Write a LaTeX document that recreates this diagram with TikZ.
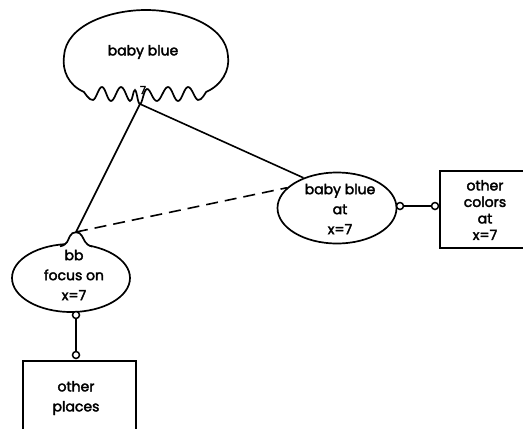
\documentclass[tikz,border=0pt]{standalone}
\usepackage{fontspec}
\setmainfont{Poppins}
\newfontfamily\lblfont{Poppins}[FakeBold=2.5]
\usetikzlibrary{shapes.geometric}
\begin{document}
\begin{tikzpicture}[x=1pt,y=-1pt,line width=1.7pt,
  lbl/.style={font=\lblfont\fontsize{14}{20}\selectfont, align=center, inner sep=0},
  lbltight/.style={font=\lblfont\fontsize{14}{16.5}\selectfont, align=center, inner sep=0},
  oval/.style={draw, ellipse, inner sep=0},
  port/.style={draw, circle, fill=white, inner sep=0, minimum size=7pt, line width=1.5pt},
  boxshape/.style={draw, rectangle, inner sep=0},
  link/.style={line width=1.6pt},
  dashlink/.style={line width=1.6pt, dash pattern=on 12pt off 7pt}]
\useasboundingbox (0,0) rectangle (523,429);
\clip (0,0) rectangle (523,429);

% jellyfish-shaped concept with a wavy fringe
\draw (206,92) .. controls (222,85) and (230,70) .. (228,56)
  .. controls (226,25) and (182,10) .. (146,10)
  .. controls (110,10) and (66,25) .. (64,56)
  .. controls (62,70) and (68,85) .. (84,92)
  -- plot[smooth,tension=0.7] coordinates {(84,92) (93,100) (102,87) (111,101) (121,87) (130,101) (135,90) (140,104) (147,89) (157,101) (168,87) (178,101) (188,87) (198,100) (206,92)};
\node[lbl] (bbtxt) at (143,52) {baby blue};
\node[font=\lblfont\fontsize{11}{12}\selectfont, inner sep=0] (seven) at (143,90) {7};
\coordinate (J) at (140,104);

% focus oval with a small knob on top
\node[oval, minimum width=118pt, minimum height=68pt] (focus) at (71,278) {};
\fill[white] (61,247) .. controls (68,245) and (68,239) .. (70,236)
  .. controls (72,231) and (80,231) .. (82,236)
  .. controls (84,239) and (85,245) .. (91,247) -- (91,248.5) -- (61,248.5) -- cycle;
\draw (60,246.3) .. controls (68,245) and (68,239) .. (70,236)
  .. controls (72,231) and (80,231) .. (82,236)
  .. controls (84,239) and (85,245) .. (92,246.5);
\coordinate (bt) at (76,232);
\node[lbl] (focustxt) at (74,275) {bb\\focus on\\x=7};

% baby blue at x=7
\node[oval, minimum width=119pt, minimum height=71pt] (rb) at (337,208) {};
\node[lbl] (rbtxt) at (340,209) {baby blue\\at\\x=7};

% side boxes
\node[boxshape, minimum width=92pt, minimum height=77pt, anchor=north west] (oc) at (439,170) {};
\node[lbltight] (octxt) at (485,210) {other\\colors\\at\\x=7};
\node[boxshape, minimum width=113pt, minimum height=80pt, anchor=north west] (op) at (22,360) {};
\node[lbl] (optxt) at (76,398) {other\\places};

% connectors
\draw[link] (J) -- (bt);
\draw[link] (J) -- (rb.138);
\draw[dashlink] (bt) -- (rb.158);

\node[port] (r1) at (400,206) {};
\node[port] (r2) at (435,206) {};
\draw[link] (r1) -- (r2);
\node[port] (f1) at (76,315) {};
\node[port] (f2) at (76,355) {};
\draw[link] (f1) -- (f2);
\end{tikzpicture}
\end{document}
